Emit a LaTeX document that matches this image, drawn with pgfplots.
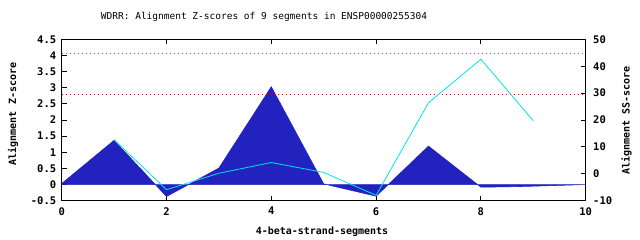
\documentclass[border=0pt]{standalone}
\usepackage{pgfplots}
\pgfplotsset{compat=1.18}
\usepackage{fontspec}
\newfontfamily\gp{DejaVu Sans Mono}
\definecolor{gpblue}{RGB}{34,34,190}
\definecolor{gpcyan}{RGB}{0,230,230}
\definecolor{gpgreen}{RGB}{0,190,0}
\definecolor{gpred}{RGB}{250,0,0}
\begin{document}
\begin{tikzpicture}
\useasboundingbox (0,0) rectangle (640pt,240pt);
\begin{axis}[
  at={(61.7pt,39.3pt)}, anchor=south west,
  scale only axis, width=524pt, height=161.4pt,
  xmin=0, xmax=10, ymin=-0.5, ymax=4.5,
  axis x line*=box, axis y line*=left,
  xtick={0,2,4,6,8,10}, xticklabels={0,2,4,6,8,10},
  ytick={-0.5,0,0.5,1,1.5,2,2.5,3,3.5,4,4.5},
  yticklabels={-0.5,0,0.5,1,1.5,2,2.5,3,3.5,4,4.5},
  xtick pos=both, ytick pos=left,
  tick align=inside, major tick length=5pt,
  axis line style={line width=0.9pt},
  every tick/.style={black, line width=0.9pt},
  ticklabel style={font=\gp\bfseries\fontsize{10.5}{12}\selectfont},
  xticklabel style={yshift=-3pt},
  yticklabel style={xshift=-2pt},
  clip=true,
]
\addplot[fill=gpblue, draw=gpblue, line width=0.6pt] coordinates {
(0,0.03) (1,1.37) (2,-0.37) (3,0.51) (4,3.03) (5,0.02) (6,-0.36) (7,1.19) (8,-0.08) (8.5,-0.07) (9,-0.05) (10,0)
} \closedcycle;
\addplot[gpgreen, line width=0.8pt, dash pattern=on 0.8pt off 3.2pt] coordinates {(0,4.07) (10,4.07)};
\addplot[gpred, line width=0.8pt, dash pattern=on 0.8pt off 3.2pt] coordinates {(0,2.80) (10,2.80)};
\end{axis}
\begin{axis}[
  at={(61.7pt,39.3pt)}, anchor=south west,
  scale only axis, width=524pt, height=161.4pt,
  xmin=0, xmax=10, ymin=-10, ymax=50,
  axis x line=none, axis y line*=right,
  ytick={-10,0,10,20,30,40,50},
  yticklabels={-10,0,10,20,30,40,50},
  ytick pos=right,
  tick align=inside, major tick length=5pt,
  axis line style={line width=0.9pt},
  every tick/.style={black, line width=0.9pt},
  ticklabel style={font=\gp\bfseries\fontsize{10.5}{12}\selectfont},
  yticklabel style={xshift=4pt},
]
\addplot[gpcyan, line width=0.8pt] coordinates {
(1,12.7) (2,-5.9) (3,0.2) (4,4.2) (5,0.5) (6,-8.0) (7,26.4) (8,42.6) (9,19.7)
};
\end{axis}
\node[font=\gp\fontsize{9.5}{11}\selectfont] at (264pt,223pt) {WDRR: Alignment Z-scores of 9 segments in ENSP00000255304};
\node[font=\gp\bfseries\fontsize{10}{12}\selectfont] at (322pt,8pt) {4-beta-strand-segments};
\node[font=\gp\bfseries\fontsize{10}{12}\selectfont, rotate=90] at (13pt,126pt) {Alignment Z-score};
\node[font=\gp\bfseries\fontsize{10}{12}\selectfont, rotate=90] at (626.5pt,119.5pt) {Alignment SS-score};
\end{tikzpicture}
\end{document}
